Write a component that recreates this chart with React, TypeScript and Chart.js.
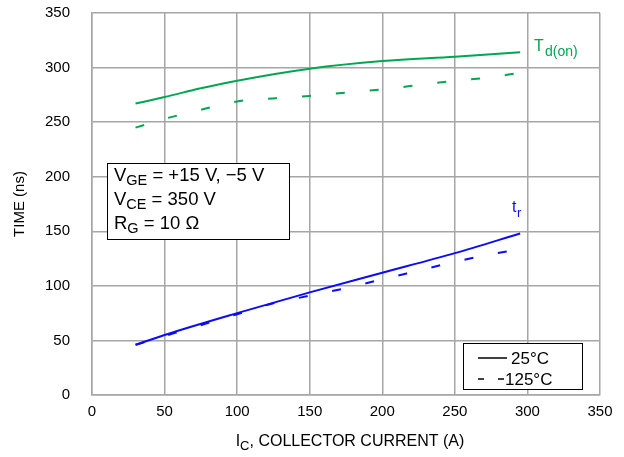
import React, { useEffect, useRef } from "react";
import { Chart, registerables } from "chart.js";

Chart.register(...registerables);

const xTicks = [0, 50, 100, 150, 200, 250, 300, 350];
const yTicks = [0, 50, 100, 150, 200, 250, 300, 350];

const td25X = [30, 50, 75, 100, 150, 200, 250, 295];
const td25Y = [267, 273, 281, 288, 299, 306, 310, 314];

const td125X = [30, 50, 77, 100, 127, 150, 175, 200, 225, 250, 275, 293];
const td125Y = [245, 253, 262, 269, 272, 274, 277, 280, 284, 288, 291, 295];

const tr25X = [30, 50, 100, 150, 200, 250, 295];
const tr25Y = [46, 55, 75, 94, 112, 130, 148];

const tr125X = [30, 50, 100, 125, 150, 175, 200, 225, 250, 275, 293];
const tr125Y = [46, 54, 74, 84, 91, 98, 106, 114, 122, 129, 133];

const GREEN = "#00a651";
const BLUE = "#0c0cf2";
const GRID = "#a6a6a6";
const FONT = "'Liberation Sans', Arial, sans-serif";

function pts(xs: number[], ys: number[]) {
  return xs.map((x, i) => ({ x, y: ys[i] }));
}

const overlay = {
  id: "overlay",
  afterDraw(chart: any) {
    const ctx = chart.ctx as CanvasRenderingContext2D;
    const xs = chart.scales.x;
    const ys = chart.scales.y;
    ctx.save();
    ctx.textBaseline = "alphabetic";

    // Td(on) label
    ctx.fillStyle = GREEN;
    ctx.font = `16px ${FONT}`;
    ctx.textAlign = "left";
    ctx.fillText("T", 534, 51);
    ctx.font = `14px ${FONT}`;
    ctx.fillText("d(on)", 545, 56);

    // tr label
    ctx.fillStyle = BLUE;
    ctx.font = `16px ${FONT}`;
    ctx.fillText("t", 512, 212);
    ctx.font = `13px ${FONT}`;
    ctx.fillText("r", 517, 217);

    // conditions box
    ctx.fillStyle = "#ffffff";
    ctx.fillRect(107, 163, 182, 76);
    ctx.strokeStyle = "#000000";
    ctx.lineWidth = 1;
    ctx.strokeRect(107.5, 163.5, 182, 76);
    ctx.fillStyle = "#000000";
    const lines = [
      ["V", "GE", " = +15 V, \u22125 V", 181],
      ["V", "CE", " = 350 V", 205],
      ["R", "G", " = 10 \u03a9", 229],
    ] as [string, string, string, number][];
    for (const [a, sub, rest, yb] of lines) {
      let x = 114;
      ctx.font = `18.5px ${FONT}`;
      ctx.fillText(a, x, yb);
      x += ctx.measureText(a).width;
      ctx.font = `14.5px ${FONT}`;
      ctx.fillText(sub, x, yb + 4);
      x += ctx.measureText(sub).width;
      ctx.font = `18.5px ${FONT}`;
      ctx.fillText(rest, x, yb);
    }

    // legend box
    ctx.fillStyle = "#ffffff";
    ctx.fillRect(463, 343, 119, 46);
    ctx.strokeStyle = "#000000";
    ctx.strokeRect(463.5, 343.5, 119, 46);
    ctx.lineWidth = 1.5;
    ctx.beginPath();
    ctx.moveTo(478, 358);
    ctx.lineTo(507, 358);
    ctx.stroke();
    ctx.beginPath();
    ctx.moveTo(478, 379);
    ctx.lineTo(484, 379);
    ctx.moveTo(498, 379);
    ctx.lineTo(504, 379);
    ctx.stroke();
    ctx.fillStyle = "#000000";
    ctx.font = `17px ${FONT}`;
    ctx.fillText("25\u00b0C", 511, 364);
    ctx.fillText("125\u00b0C", 505, 385);

    // x title
    const t1 = "I";
    const t2 = "C";
    const t3 = ", COLLECTOR CURRENT (A)";
    ctx.font = `16px ${FONT}`;
    const w1 = ctx.measureText(t1).width;
    const w3 = ctx.measureText(t3).width;
    ctx.font = `13px ${FONT}`;
    const w2 = ctx.measureText(t2).width;
    const total = w1 + w2 + w3;
    let x0 = (xs.left + xs.right) / 2 - total / 2 + 4;
    ctx.font = `16px ${FONT}`;
    ctx.fillText(t1, x0, 446);
    x0 += w1;
    ctx.font = `13px ${FONT}`;
    ctx.fillText(t2, x0, 450);
    x0 += w2;
    ctx.font = `16px ${FONT}`;
    ctx.fillText(t3, x0, 446);

    // y title
    ctx.font = `15px ${FONT}`;
    ctx.translate(19.5, (ys.top + ys.bottom) / 2);
    ctx.rotate(-Math.PI / 2);
    ctx.textAlign = "center";
    ctx.textBaseline = "middle";
    ctx.fillText("TIME (ns)", 0, 0);
    ctx.restore();
  },
};

export default function App() {
  const ref = useRef<HTMLCanvasElement | null>(null);
  useEffect(() => {
    document.body.style.margin = "0";
    const canvas = ref.current!;
    const lineDs = (label: string, xs: number[], ys: number[], color: string, dashed: boolean) => ({
      label,
      data: pts(xs, ys),
      borderColor: color,
      backgroundColor: color,
      borderWidth: 2,
      pointRadius: 0,
      fill: false,
      cubicInterpolationMode: "monotone" as const,
      borderDash: dashed ? [9, 25] : [],
    });
    const chart = new Chart(canvas, {
      type: "line",
      data: {
        datasets: [
          lineDs("Td(on) 25°C", td25X, td25Y, GREEN, false),
          lineDs("Td(on) 125°C", td125X, td125Y, GREEN, true),
          lineDs("tr 25°C", tr25X, tr25Y, BLUE, false),
          lineDs("tr 125°C", tr125X, tr125Y, BLUE, true),
        ],
      },
      options: {
        responsive: false,
        animation: false,
        layout: { padding: { left: 0, right: 24, top: 13, bottom: 0 } },
        plugins: { legend: { display: false }, tooltip: { enabled: false } },
        scales: {
          x: {
            type: "linear",
            min: 0,
            max: 350,
            afterBuildTicks: (s: any) => {
              s.ticks = xTicks.map((v) => ({ value: v }));
            },
            afterFit: (s: any) => {
              s.height = 62;
              s.paddingLeft = 0;
              s.paddingRight = 0;
            },
            ticks: {
              color: "#000",
              font: { family: FONT, size: 15 },
              padding: 8,
              maxRotation: 0,
            },
            grid: { color: GRID, lineWidth: 1.5, drawTicks: false },
            border: { color: GRID, width: 1.5 },
          },
          y: {
            type: "linear",
            min: 0,
            max: 350,
            afterBuildTicks: (s: any) => {
              s.ticks = yTicks.map((v) => ({ value: v }));
            },
            afterFit: (s: any) => {
              s.width = 92;
              s.paddingTop = 0;
              s.paddingBottom = 0;
            },
            ticks: {
              color: "#000",
              font: { family: FONT, size: 15 },
              padding: 22,
            },
            grid: { color: GRID, lineWidth: 1.5, drawTicks: false },
            border: { color: GRID, width: 1.5 },
          },
        },
      },
      plugins: [overlay],
    });
    return () => chart.destroy();
  }, []);
  return (
    <div style={{ position: "absolute", left: 0, top: 0, width: 624, height: 457, background: "#fff" }}>
      <canvas ref={ref} width={624} height={457} style={{ width: 624, height: 457 }} />
    </div>
  );
}
